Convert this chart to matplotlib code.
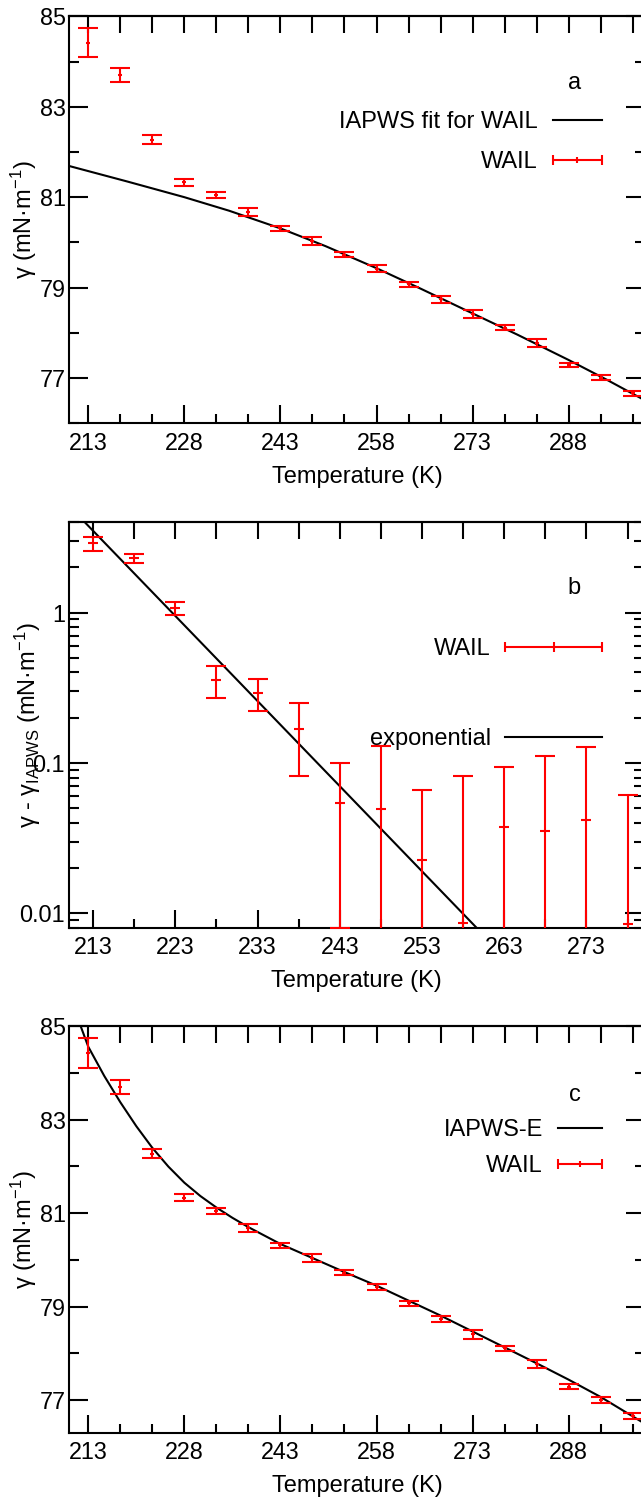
import numpy as np
import matplotlib
matplotlib.use("Agg")
import matplotlib.pyplot as plt
from matplotlib.ticker import FixedLocator, FixedFormatter, NullFormatter, LogLocator
from matplotlib.lines import Line2D
from matplotlib.collections import LineCollection
from matplotlib.container import ErrorbarContainer
from matplotlib.legend_handler import HandlerErrorbar

plt.rcParams['font.family'] = ['Liberation Sans', 'DejaVu Sans']
plt.rcParams['mathtext.fontset'] = 'custom'
plt.rcParams['mathtext.rm'] = 'Liberation Sans'
plt.rcParams['mathtext.it'] = 'Liberation Sans:italic'
plt.rcParams['mathtext.default'] = 'regular'

# ---------------- data ----------------
# WAIL surface tension (panels a and c)
T_wail = [213, 218, 223, 228, 233, 238, 243, 248, 253, 258, 263, 268, 273, 278, 283, 288, 293, 298]
g_wail = [84.42, 83.70, 82.27, 81.33, 81.04, 80.68, 80.31, 80.04, 79.73, 79.42, 79.07, 78.74,
          78.41, 78.11, 77.78, 77.29, 77.01, 76.66]
g_wail_err = [0.32, 0.155, 0.10, 0.08, 0.065, 0.09, 0.05, 0.09, 0.05, 0.07, 0.055, 0.07,
              0.09, 0.055, 0.09, 0.05, 0.06, 0.065]

# IAPWS fit for WAIL (panel a)
T_fit = [210, 219, 228, 235, 243, 250, 258, 265, 273, 280, 288, 294, 300]
g_fit = [81.69, 81.35, 81.00, 80.70, 80.31, 79.92, 79.43, 78.97, 78.43, 77.96, 77.40, 76.96, 76.50]

# IAPWS-E (panel c)
T_iapwse = [211.5, 213, 215.5, 218, 220.5, 223, 225.5, 228, 230.5, 233, 235.5, 238, 243, 248,
            253, 258, 263, 268, 273, 278, 283, 288, 293, 300]
g_iapwse = [85.11, 84.555, 83.93, 83.37, 82.857, 82.395, 81.995, 81.65, 81.365, 81.12, 80.90,
            80.70, 80.34, 80.04, 79.74, 79.45, 79.13, 78.81, 78.47, 78.13, 77.79, 77.44, 77.07,
            76.49]

# panel b: deviation from IAPWS fit
T_dev = [213, 218, 223, 228, 233, 238, 243, 248, 253, 258, 263, 268, 273, 278]
dev = [2.88, 2.29, 1.07, 0.355, 0.292, 0.167, 0.054, 0.0497, 0.0225, 0.0087, 0.0375, 0.0353,
       0.042, 0.00845]
dev_err = [0.31, 0.17, 0.11, 0.085, 0.07, 0.085, 0.046, 0.081, 0.044, 0.073, 0.056, 0.076,
           0.086, 0.053]
T_exp = [210, 262]
exp_val = [5.16, 0.0059]

xticks_ac = [213, 228, 243, 258, 273, 288]
xticks_b = [213, 223, 233, 243, 253, 263, 273]
yticks_ac = [77, 79, 81, 83, 85]
yminor_ac = [76, 78, 80, 82, 84]
yticks_b = [0.01, 0.1, 1]
yticklabels_b = ['0.01', '0.1', '1']

RED = '#ff0000'
FS = 17
TFS = 16.8

fig = plt.figure(figsize=(6.41, 14.99), dpi=100)
W, H = 641.0, 1499.0


def add_ax(left, right, top, bottom):
    return fig.add_axes([left / W, 1 - bottom / H, (right - left) / W, (bottom - top) / H])


ax_a = add_ax(69.1, 645.5, 16.3, 423.3)
ax_b = add_ax(68.5, 644.0, 522.0, 928.0)
ax_c = add_ax(69.1, 645.5, 1026.0, 1433.0)


def style_axes(ax, xmaj, xall):
    for s in ax.spines.values():
        s.set_linewidth(1.5)
    ax.xaxis.set_major_locator(FixedLocator(xmaj))
    ax.xaxis.set_minor_locator(FixedLocator(xall))
    ax.tick_params(axis='x', which='both', direction='in', top=False, bottom=True,
                   width=1.5, labelsize=TFS, pad=6)
    ax.tick_params(axis='x', which='major', length=13)
    ax.tick_params(axis='x', which='minor', length=6.5)
    ax.tick_params(axis='y', which='both', direction='in', left=True, right=True,
                   width=1.5, labelsize=TFS, pad=2.5)
    ax.tick_params(axis='y', which='major', length=13.5)
    ax.tick_params(axis='y', which='minor', length=7)
    sec = ax.secondary_xaxis('top')
    sec.set_xticks(xall)
    sec.tick_params(direction='in', length=12.5, width=1.5, labeltop=False)
    sec.spines['top'].set_linewidth(1.5)
    ax.set_xlabel('Temperature (K)', fontsize=FS, labelpad=8)


def err_proxy(ms_center, capsize):
    pl = Line2D([], [], color=RED, marker='|', markersize=ms_center, markeredgewidth=1.5,
                linestyle='none')
    cap = Line2D([], [], color=RED, marker='|', markersize=capsize, markeredgewidth=1.5,
                 linestyle='none')
    bars = LineCollection([], colors=RED, linewidths=1.5)
    return ErrorbarContainer((pl, (cap, cap), (bars,)), has_xerr=True, has_yerr=False)


def errorbars(ax, x, y, e, ms):
    ax.errorbar(x, y, yerr=e, fmt='_', color=RED, ecolor=RED, markersize=ms,
                markeredgewidth=1.5, elinewidth=1.5, capsize=7, capthick=1.5, zorder=3)


# ---------------- panel a ----------------
ax = ax_a
ax.plot(T_fit, g_fit, color='black', lw=1.5, zorder=2)
errorbars(ax, T_wail, g_wail, g_wail_err, 3)
ax.set_xlim(210, 300)
ax.set_ylim(76, 85)
style_axes(ax, xticks_ac, T_wail)
ax.yaxis.set_major_locator(FixedLocator(yticks_ac))
ax.yaxis.set_minor_locator(FixedLocator(yminor_ac))
ax.set_ylabel('γ (mN·m$^{-1}$)', fontsize=FS)
ax.yaxis.set_label_coords(-0.053, 0.5)
ax.text(0.8777, 0.836, 'a', transform=ax.transAxes, fontsize=FS, ha='center', va='center')
hl = 2.08
pa = err_proxy(4, 7)
ha = [Line2D([], [], color='black', lw=1.5), pa]
ax.legend(ha, ['IAPWS fit for WAIL', 'WAIL'], loc='center right', bbox_to_anchor=(0.9246, 0.690),
          frameon=False, markerfirst=False, fontsize=FS, handlelength=hl, handletextpad=0.64,
          labelspacing=0.76, borderpad=0, borderaxespad=0,
          handler_map={pa: HandlerErrorbar(xerr_size=hl / 2)})

# ---------------- panel b ----------------
ax = ax_b
ax.set_yscale('log')
ax.plot(T_exp, exp_val, color='black', lw=1.5, zorder=2)
errorbars(ax, T_dev, dev, dev_err, 7)
ax.set_xlim(210, 280)
ax.set_ylim(0.008, 4.0)
style_axes(ax, xticks_b, T_dev)
ax.yaxis.set_major_locator(FixedLocator(yticks_b))
ax.yaxis.set_major_formatter(FixedFormatter(yticklabels_b))
ax.yaxis.set_minor_locator(LogLocator(base=10, subs=np.arange(2, 10)))
ax.yaxis.set_minor_formatter(NullFormatter())
ax.set_ylabel('γ - γ$_{IAPWS}$ (mN·m$^{-1}$)', fontsize=FS)
ax.yaxis.set_label_coords(-0.045, 0.5)
ax.text(0.878, 0.8374, 'b', transform=ax.transAxes, fontsize=FS, ha='center', va='center')
hl = 4.1
pb = err_proxy(7, 7)
hb = [pb, Line2D([], [], color='black', lw=1.5)]
ax.legend(hb, ['WAIL', 'exponential'], loc='center right', bbox_to_anchor=(0.927, 0.576),
          frameon=False, markerfirst=False, fontsize=FS, handlelength=hl, handletextpad=0.6,
          labelspacing=2.85, borderpad=0, borderaxespad=0,
          handler_map={pb: HandlerErrorbar(xerr_size=hl / 2)})

# ---------------- panel c ----------------
ax = ax_c
ax.plot(T_iapwse, g_iapwse, color='black', lw=1.5, zorder=2)
errorbars(ax, T_wail, g_wail, g_wail_err, 3)
ax.set_xlim(210, 300)
ax.set_ylim(76.3, 85)
style_axes(ax, xticks_ac, T_wail)
ax.yaxis.set_major_locator(FixedLocator(yticks_ac))
ax.yaxis.set_minor_locator(FixedLocator(yminor_ac))
ax.set_ylabel('γ (mN·m$^{-1}$)', fontsize=FS)
ax.yaxis.set_label_coords(-0.053, 0.5)
ax.text(0.8777, 0.830, 'c', transform=ax.transAxes, fontsize=FS, ha='center', va='center')
hl = 1.86
pc = err_proxy(4, 7)
hc = [Line2D([], [], color='black', lw=1.5), pc]
ax.legend(hc, ['IAPWS-E', 'WAIL'], loc='center right', bbox_to_anchor=(0.9246, 0.700),
          frameon=False, markerfirst=False, fontsize=FS, handlelength=hl, handletextpad=0.64,
          labelspacing=0.6, borderpad=0, borderaxespad=0,
          handler_map={pc: HandlerErrorbar(xerr_size=hl / 2)})

fig.savefig('out.png', dpi=100)
